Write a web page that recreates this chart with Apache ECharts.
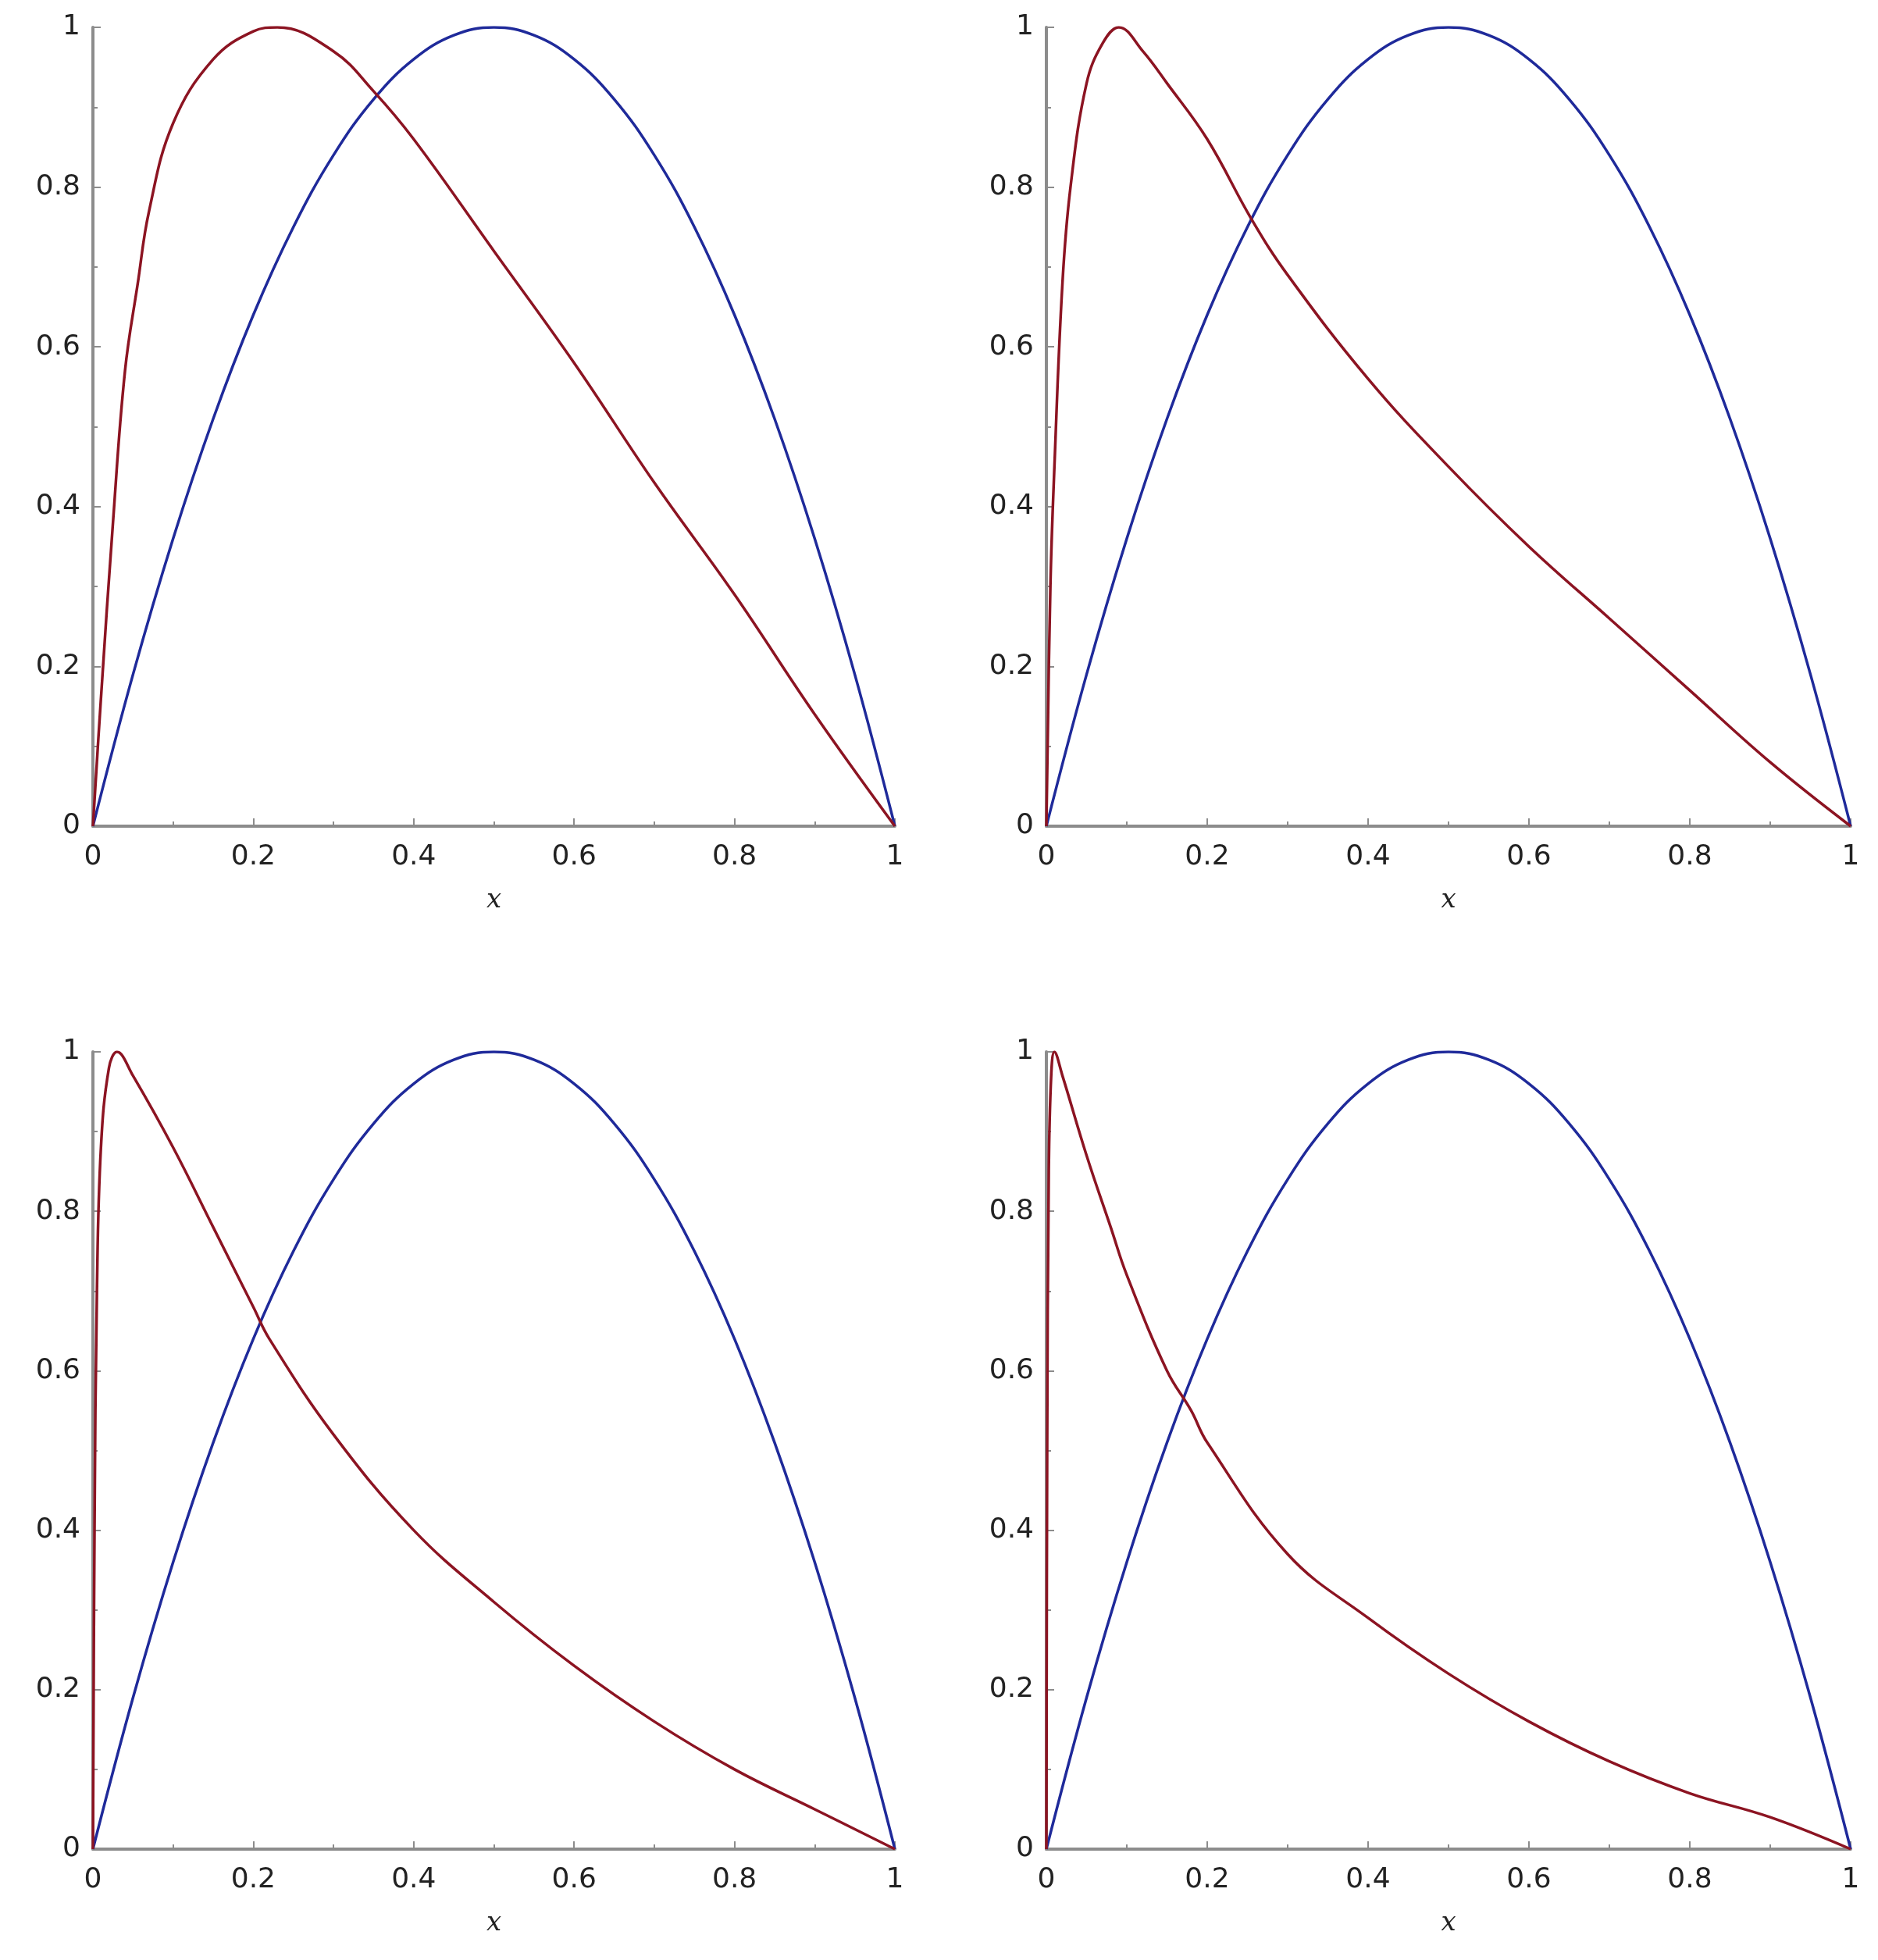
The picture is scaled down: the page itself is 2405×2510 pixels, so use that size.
<!DOCTYPE html>
<html style="height: 100%">
<head>
<meta charset="utf-8">
<title></title>
<style>
  html, body { margin: 0; padding: 0; background: #fff; }
  #chart { width: 2405px; height: 2510px; }
</style>
</head>
<body>
<div id="chart"></div>
<script src="https://cdn.jsdelivr.net/npm/echarts@6/dist/echarts.min.js"></script>
<script type="text/javascript">
// blue curve, same on every panel
var blueX = [0,0.05,0.1,0.15,0.2,0.25,0.3,0.35,0.4,0.45,0.5,0.55,0.6,0.65,0.7,0.75,0.8,0.85,0.9,0.95,1];
var blueY = [0,0.19,0.36,0.51,0.64,0.75,0.84,0.91,0.96,0.99,1,0.99,0.96,0.91,0.84,0.75,0.64,0.51,0.36,0.19,0];

// red curves, one per panel
var red1X = [0,0.01,0.025,0.04,0.056,0.07,0.1,0.15,0.2,0.23,0.3,0.35,0.4,0.5,0.6,0.7,0.8,0.9,1];
var red1Y = [0,0.16,0.38,0.57,0.68,0.77,0.88,0.96,0.995,1,0.97,0.92,0.86,0.72,0.58,0.43,0.29,0.14,0];
var red2X = [0,0.005,0.01,0.02,0.03,0.05,0.07,0.09,0.12,0.15,0.2,0.255,0.3,0.4,0.5,0.6,0.7,0.8,0.9,1];
var red2Y = [0,0.3,0.45,0.68,0.8,0.93,0.98,1,0.97,0.93,0.86,0.76,0.69,0.56,0.45,0.35,0.26,0.17,0.08,0];
var red3X = [0,0.002,0.005,0.01,0.02,0.03,0.05,0.1,0.15,0.2,0.22,0.3,0.4,0.5,0.6,0.7,0.8,0.9,1];
var red3Y = [0,0.4,0.7,0.88,0.98,1,0.97,0.88,0.78,0.68,0.64,0.52,0.4,0.31,0.23,0.16,0.1,0.05,0];
var red4X = [0,0.001,0.003,0.006,0.01,0.02,0.05,0.08,0.1,0.15,0.18,0.2,0.3,0.4,0.5,0.6,0.7,0.8,0.9,1];
var red4Y = [0,0.5,0.85,0.97,1,0.97,0.87,0.78,0.72,0.6,0.55,0.51,0.37,0.29,0.22,0.16,0.11,0.07,0.04,0];

var redSets = [[red1X, red1Y], [red2X, red2Y], [red3X, red3Y], [red4X, red4Y]];
var tickLabels = ['0', '0.2', '0.4', '0.6', '0.8', '1'];

function pairs(xs, ys) {
  var out = [];
  for (var i = 0; i < xs.length; i++) out.push([xs[i], ys[i]]);
  return out;
}
function lab(v) {
  return tickLabels[Math.round(v * 5)] || '';
}

var grids = [
  { left: 119, width: 1027, top: 35, height: 1023 },
  { left: 1340, width: 1030, top: 35, height: 1023 },
  { left: 119, width: 1027, top: 1347, height: 1021 },
  { left: 1340, width: 1030, top: 1347, height: 1021 }
];
var axisLine = { lineStyle: { color: '#8c8c8c', width: 4 } };
var axisTick = { inside: true, length: 10, lineStyle: { color: '#8c8c8c', width: 2 } };
var minorTick = { show: true, splitNumber: 2, length: 6, lineStyle: { color: '#8c8c8c', width: 2 } };
var labelStyle = { color: '#222', fontSize: 36, fontFamily: 'DejaVu Sans' };

var xAxes = [], yAxes = [], series = [];
for (var g = 0; g < 4; g++) {
  xAxes.push({
    gridIndex: g, type: 'value', min: 0, max: 1, interval: 0.2,
    name: 'x', nameLocation: 'middle', nameGap: 78,
    nameTextStyle: { fontSize: 34, fontStyle: 'italic', color: '#222', fontFamily: 'DejaVu Serif' },
    axisLine: axisLine, axisTick: axisTick, minorTick: minorTick,
    splitLine: { show: false },
    axisLabel: { formatter: lab, margin: 22, color: labelStyle.color, fontSize: labelStyle.fontSize, fontFamily: labelStyle.fontFamily }
  });
  yAxes.push({
    gridIndex: g, type: 'value', min: 0, max: 1, interval: 0.2,
    axisLine: axisLine, axisTick: axisTick, minorTick: minorTick,
    splitLine: { show: false },
    axisLabel: { formatter: lab, margin: 16, color: labelStyle.color, fontSize: labelStyle.fontSize, fontFamily: labelStyle.fontFamily }
  });
  series.push({
    type: 'line', xAxisIndex: g, yAxisIndex: g, smooth: 0.4, showSymbol: false,
    lineStyle: { color: '#1f2a9a', width: 3.5 }, data: pairs(blueX, blueY)
  });
  series.push({
    type: 'line', xAxisIndex: g, yAxisIndex: g, smooth: 0.4, showSymbol: false,
    lineStyle: { color: '#8c1422', width: 3.5 }, data: pairs(redSets[g][0], redSets[g][1])
  });
}

var myChart = echarts.init(document.getElementById('chart'));
myChart.setOption({
  animation: false,
  backgroundColor: '#fff',
  grid: grids,
  xAxis: xAxes,
  yAxis: yAxes,
  series: series
});
</script>
</body>
</html>
